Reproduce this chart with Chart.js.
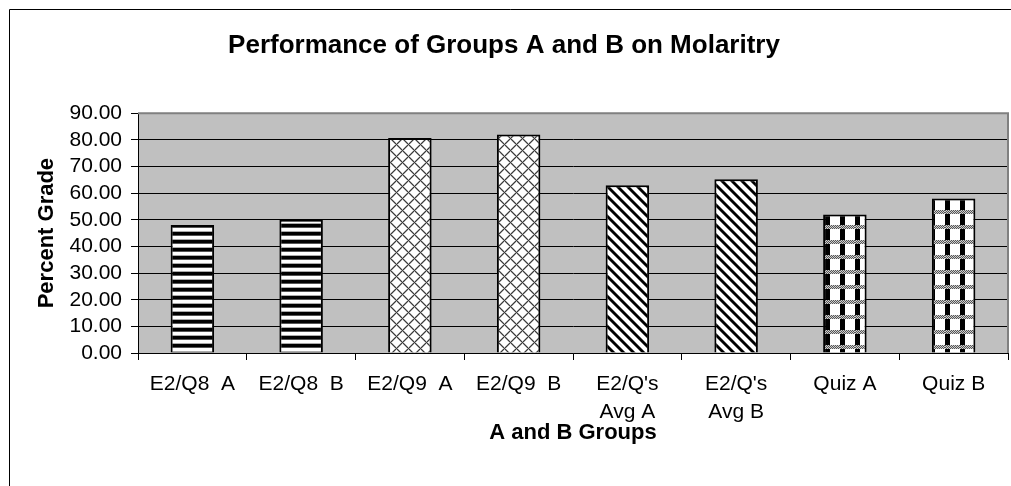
<!DOCTYPE html>
<html>
<head>
<meta charset="utf-8">
<script src="https://cdn.jsdelivr.net/npm/chart.js@4/dist/chart.umd.min.js"></script>
<style>
  body { margin: 0; background: #fff; }
</style>
</head>
<body>
<canvas id="myChart" width="1011" height="486"></canvas>
<script>
// data
let categories = [
    'E2/Q8  A',
    'E2/Q8  B',
    'E2/Q9  A',
    'E2/Q9  B',
    ["E2/Q's", 'Avg A'],
    ["E2/Q's", 'Avg B'],
    'Quiz A',
    'Quiz B'
];
let grades = [48.0, 50.0, 80.7, 82.0, 63.0, 65.2, 52.0, 58.0];
let yTicks = [0, 10, 20, 30, 40, 50, 60, 70, 80, 90];

// which fill pattern each bar uses
let patternKinds = ['hstripe', 'hstripe', 'cross', 'cross', 'diag', 'diag', 'plaid', 'plaid'];

const myChart = document.getElementById('myChart');
const fontFamily = 'Liberation Sans, Arial, sans-serif';

//build small pixel tiles and turn them into canvas patterns
function makePattern(kind) {
    let w = 8, h = 8;
    if (kind === 'diag') { w = 10; h = 10; }
    if (kind === 'cross') { w = 12; h = 12; }
    if (kind === 'plaid') { w = 15; h = 15; }
    let tile = document.createElement('canvas');
    tile.width = w;
    tile.height = h;
    let c = tile.getContext('2d');
    for (let y = 0; y < h; y++) {
        for (let x = 0; x < w; x++) {
            let col = '#ffffff';
            if (kind === 'hstripe') {
                if (y < 3) col = '#000000';
                else if (y === 3) col = '#555555';
                else if (y === 7) col = '#aaaaaa';
            }
            if (kind === 'diag') {
                let d = ((x - y) % w + w) % w;
                if (d < 3) col = '#000000';
                else if (d === 3 || d === w - 1) col = '#777777';
            }
            if (kind === 'cross') {
                let d1 = (x + y) % w;
                let d2 = ((x - y) % w + w) % w;
                if (d1 === 0 || d2 === 0) col = '#3a3a3a';
                else if (d1 === 1 || d1 === w - 1 || d2 === 1 || d2 === w - 1) col = '#b0b0b0';
            }
            if (kind === 'plaid') {
                if (y < 4) {
                    col = (x + y) % 2 === 0 ? '#555555' : '#d0d0d0';
                } else if (x < 5) {
                    col = '#000000';
                }
            }
            c.fillStyle = col;
            c.fillRect(x, y, 1, 1);
        }
    }
    return c.createPattern(tile, 'repeat');
}

let barFills = patternKinds.map(k => makePattern(k));

// grey plot area and the frame lines of the chart
const framePlugin = {
    id: 'frame',
    beforeDraw(chart) {
        let c = chart.ctx;
        let a = chart.chartArea;
        c.save();
        c.fillStyle = '#ffffff';
        c.fillRect(0, 0, chart.width, chart.height);
        c.fillStyle = '#c0c0c0';
        c.fillRect(a.left, a.top, a.right - a.left, a.bottom - a.top);
        c.strokeStyle = '#000000';
        c.lineWidth = 1;
        c.beginPath();
        c.moveTo(9.5, chart.height);
        c.lineTo(9.5, 9.5);
        c.lineTo(chart.width, 9.5);
        c.stroke();
        c.restore();
    },
    beforeDatasetsDraw(chart) {
        let c = chart.ctx;
        let a = chart.chartArea;
        c.save();
        c.strokeStyle = '#808080';
        c.lineWidth = 2;
        c.beginPath();
        c.moveTo(a.left, a.top);
        c.lineTo(a.right, a.top);
        c.lineTo(a.right, a.bottom);
        c.stroke();
        c.restore();
    }
};

let chart1 = new Chart(myChart, {
    type: 'bar',
    data: {
        labels: categories,
        datasets: [{
            data: grades,
            backgroundColor: barFills,
            borderColor: '#000000',
            borderWidth: 2,
            barPercentage: 0.4,
            categoryPercentage: 1.0
        }]
    },
    options: {
        responsive: false,
        animation: false,
        devicePixelRatio: 1,
        layout: {
            padding: { top: 0, right: 3, bottom: 0, left: 0 }
        },
        plugins: {
            legend: { display: false },
            tooltip: { enabled: false },
            title: {
                display: true,
                text: 'Performance of Groups A and B on Molaritry',
                color: '#000000',
                font: { family: fontFamily, size: 26, weight: 'bold', lineHeight: 1.2 },
                padding: { top: 30, bottom: 52 }
            }
        },
        scales: {
            x: {
                offset: true,
                grid: {
                    display: true,
                    drawOnChartArea: false,
                    drawTicks: true,
                    tickLength: 7,
                    color: '#000000',
                    offset: true
                },
                border: { color: '#000000', width: 1 },
                ticks: {
                    color: '#000000',
                    autoSkip: false,
                    maxRotation: 0,
                    minRotation: 0,
                    padding: 11,
                    font: { family: fontFamily, size: 21, lineHeight: 1.3 }
                },
                title: {
                    display: true,
                    text: 'A and B Groups',
                    color: '#000000',
                    font: { family: fontFamily, size: 22, weight: 'bold', lineHeight: 1.2 },
                    padding: { top: 0, bottom: 40 }
                },
                afterFit(scale) {
                    scale.height = 133;
                }
            },
            y: {
                min: 0,
                max: 90,
                afterBuildTicks(scale) {
                    scale.ticks = yTicks.map(v => ({ value: v }));
                },
                grid: {
                    color: '#000000',
                    lineWidth: 1,
                    drawTicks: true,
                    tickLength: 7
                },
                border: { color: '#000000', width: 1 },
                ticks: {
                    color: '#000000',
                    autoSkip: false,
                    padding: 9,
                    font: { family: fontFamily, size: 21 },
                    callback: v => Number(v).toFixed(2)
                },
                title: {
                    display: true,
                    text: 'Percent Grade',
                    color: '#000000',
                    font: { family: fontFamily, size: 22, weight: 'bold', lineHeight: 1.2 },
                    padding: { top: 34, bottom: 0 }
                },
                afterFit(scale) {
                    scale.width = 138;
                }
            }
        }
    },
    plugins: [framePlugin]
});
</script>
</body>
</html>
